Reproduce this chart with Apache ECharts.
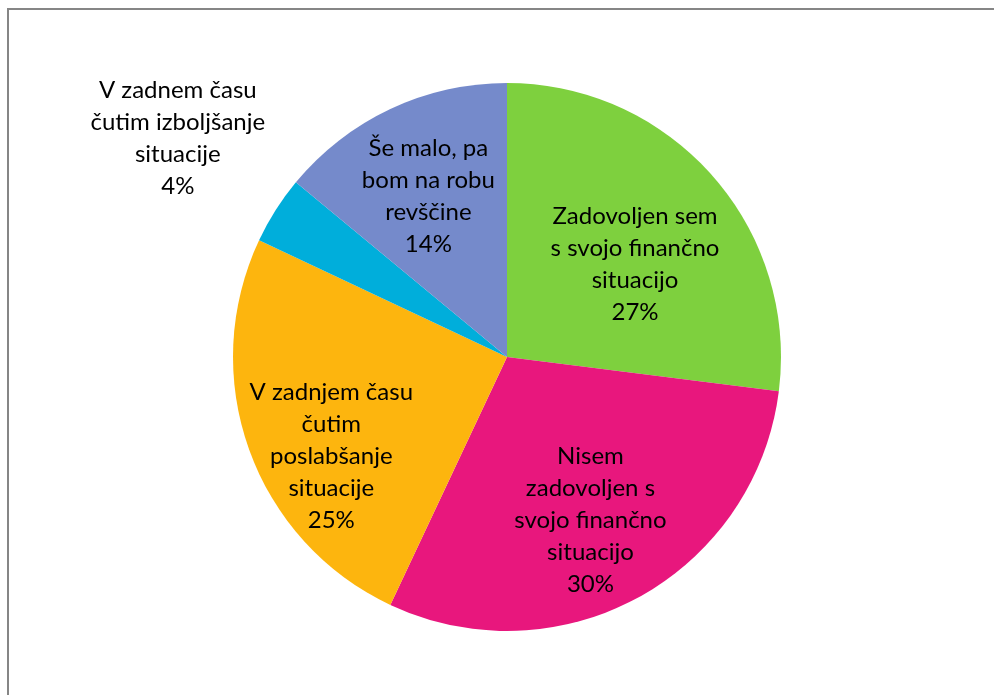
<!DOCTYPE html>
<html>
<head>
<meta charset="utf-8">
<script src="https://cdn.jsdelivr.net/npm/echarts@6/dist/echarts.min.js"></script>
<style>
  html, body { margin: 0; padding: 0; background: #ffffff; }
  #chart { width: 994px; height: 695px; }
</style>
</head>
<body>
<div id="chart"></div>
<script>
// Survey answers about personal financial situation (share of respondents, %)
const categories = [
  'Zadovoljen sem\ns svojo finančno\nsituacijo',
  'Nisem\nzadovoljen s\nsvojo finančno\nsituacijo',
  'V zadnjem času\nčutim\nposlabšanje\nsituacije',
  'V zadnem času\nčutim izboljšanje\nsituacije',
  'Še malo, pa\nbom na robu\nrevščine'
];
const values = [27, 30, 25, 4, 14];
const colors = ['#7ed03e', '#e8177d', '#fdb50e', '#00aedb', '#758acb'];

// Nudges of each slice label away from its default inside spot
const labelOffsets = [[23, 0], [16, 41], [-44, 52], [-211, -144], [-19, -34]];

const chart = echarts.init(document.getElementById('chart'), null, { renderer: 'canvas' });

chart.setOption({
  animation: false,
  backgroundColor: '#ffffff',
  graphic: [{
    type: 'rect',
    shape: { x: 8, y: 9, width: 1000, height: 700 },
    style: { fill: 'none', stroke: '#868686', lineWidth: 2 },
    silent: true
  }],
  series: [{
    type: 'pie',
    center: [507, 357],
    radius: 274,
    startAngle: 90,
    clockwise: true,
    avoidLabelOverlap: false,
    data: categories.map((name, i) => ({
      name: name,
      value: values[i],
      itemStyle: { color: colors[i] }
    })),
    itemStyle: { borderWidth: 0 },
    label: {
      show: true,
      position: 'inside',
      formatter: p => p.name + '\n' + p.value + '%',
      color: '#000000',
      fontFamily: 'Lato',
      fontSize: 24,
      lineHeight: 32,
      align: 'center'
    },
    labelLine: { show: false },
    labelLayout: p => ({ dx: labelOffsets[p.dataIndex][0], dy: labelOffsets[p.dataIndex][1] }),
    emphasis: { disabled: true }
  }]
});
</script>
</body>
</html>
